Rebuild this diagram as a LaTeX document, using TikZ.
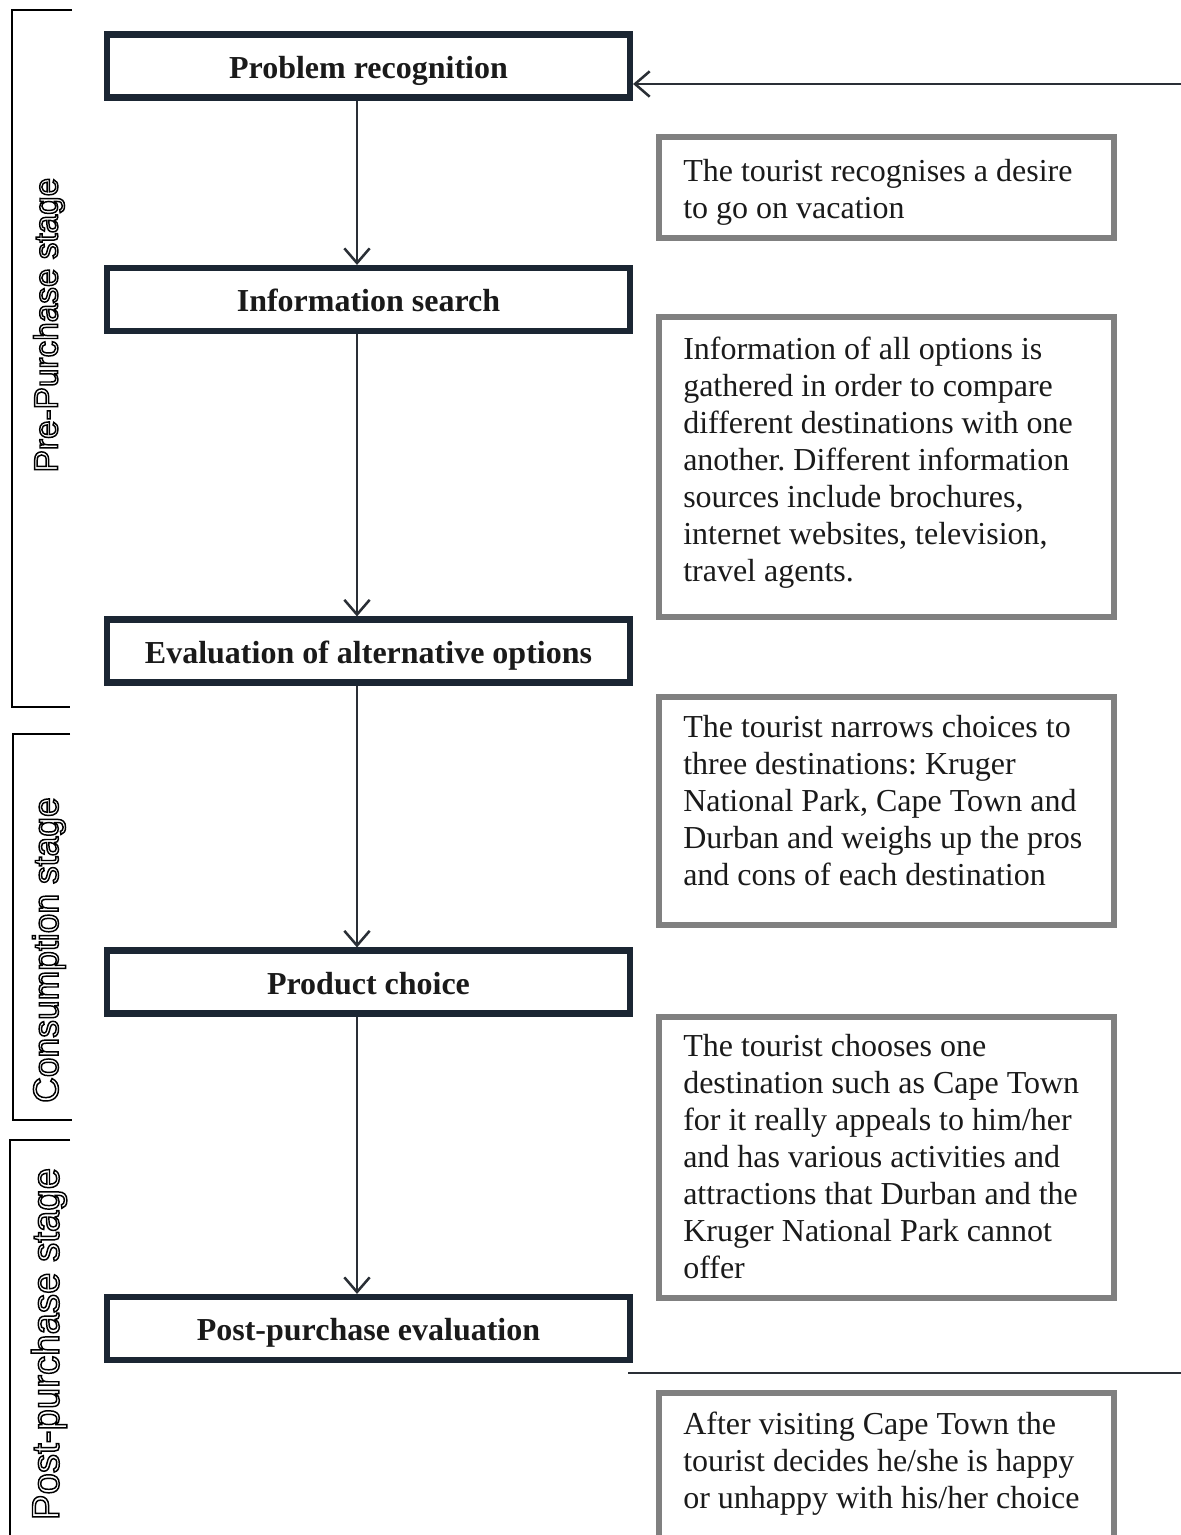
\documentclass[tikz,border=0pt]{standalone}
\usepackage{fontspec}
\setmainfont{Liberation Serif}
\newfontfamily\labelfont{Liberation Sans}
\usetikzlibrary{arrows.meta}
\frenchspacing
\definecolor{boxnavy}{HTML}{1B2633}
\definecolor{notegray}{HTML}{808080}
\definecolor{inkdark}{HTML}{1A1A1A}
\definecolor{linkdark}{HTML}{2A2F36}
\newcommand\pxu{0.75pt}
% hollow (outlined) lettering for the stage labels
\newcommand\hollowtext[1]{\special{pdf:literal direct 1 Tr 1.1 w}#1\special{pdf:literal direct 0 Tr}}
% stacked lines with a fixed baseline distance; the first baseline is the box baseline
\newcommand\notelines[1]{\vtop{\baselineskip=27.75pt\lineskiplimit=-100pt\lineskip=0pt#1}}

\begin{document}
\begin{tikzpicture}[x=0.75pt,y=-0.75pt,
  stepbox/.style={draw=boxnavy, line width=4.6pt, minimum width=523*\pxu,
    minimum height=63*\pxu, inner sep=0pt, text=inkdark,
    text height=20pt, text depth=2pt,
    font=\fontsize{24}{28}\selectfont\bfseries},
  notebox/.style={draw=notegray, line width=4.8pt, anchor=north west,
    minimum width=455*\pxu, inner sep=0pt, outer sep=0pt},
  notetext/.style={anchor=base west, inner sep=0pt, text=inkdark,
    font=\fontsize{24}{27.75}\selectfont},
  flow/.style={draw=linkdark, line width=1.9pt,
    -{Straight Barb[length=11pt,width=19pt,line width=1.9pt]}},
  plainline/.style={draw=linkdark, line width=1.6pt},
  bracket/.style={draw=black, line width=1.5pt},
  stagelabel/.style={rotate=90, inner sep=0pt, text=black}
]
\useasboundingbox (0,0) rectangle (1181,1535);
\clip (0,0) rectangle (1181,1535);

% main process steps
\node[stepbox] (b1) at (368.5,66)    {Problem recognition};
\node[stepbox] (b2) at (368.5,299.5) {Information search};
\node[stepbox] (b3) at (368.5,651)   {Evaluation of alternative options};
\node[stepbox] (b4) at (368.5,982)   {Product choice};
\node[stepbox] (b5) at (368.5,1328.5){Post-purchase evaluation};

% explanatory notes
\node[notebox, minimum height=101*\pxu] (n1) at (659,137)  {};
\node[notebox, minimum height=300*\pxu] (n2) at (659,317)  {};
\node[notebox, minimum height=228*\pxu] (n3) at (659,697)  {};
\node[notebox, minimum height=281*\pxu] (n4) at (659,1017) {};
\node[notebox, minimum height=200*\pxu] (n5) at (659,1393) {};

\node[notetext] (t1) at (683,181) {\notelines{%
  \hbox{The tourist recognises a desire}
  \hbox{to go on vacation}}};
\node[notetext] (t2) at (683,359) {\notelines{%
  \hbox{Information of all options is}
  \hbox{gathered in order to compare}
  \hbox{different destinations with one}
  \hbox{another. Different information}
  \hbox{sources include brochures,}
  \hbox{internet websites, television,}
  \hbox{travel agents.}}};
\node[notetext] (t3) at (683,737) {\notelines{%
  \hbox{The tourist narrows choices to}
  \hbox{three destinations: Kruger}
  \hbox{National Park, Cape Town and}
  \hbox{Durban and weighs up the pros}
  \hbox{and cons of each destination}}};
\node[notetext] (t4) at (683,1056) {\notelines{%
  \hbox{The tourist chooses one}
  \hbox{destination such as Cape Town}
  \hbox{for it really appeals to him/her}
  \hbox{and has various activities and}
  \hbox{attractions that Durban and the}
  \hbox{Kruger National Park cannot}
  \hbox{offer}}};
\node[notetext] (t5) at (683,1434) {\notelines{%
  \hbox{After visiting Cape Town the}
  \hbox{tourist decides he/she is happy}
  \hbox{or unhappy with his/her choice}}};

% flow between the steps
\coordinate (spine) at (357,0);
\draw[flow] (b1.south -| spine) -- (b2.north -| spine);
\draw[flow] (b2.south -| spine) -- (b3.north -| spine);
\draw[flow] (b3.south -| spine) -- (b4.north -| spine);
\draw[flow] (b4.south -| spine) -- (b5.north -| spine);

% feedback loop ends
\coordinate (loopin) at (1181,84);
\draw[flow] (loopin) -- (loopin -| b1.east);
\coordinate (loopout) at (1181,1373);
\coordinate (loopstart) at (628,1373);
\draw[plainline] (loopstart) -- (loopout);

% stage brackets
\draw[bracket] (72,10) -- (12,10) -- (12,707) -- (70,707);
\draw[bracket] (70,734) -- (13,734) -- (13,1120) -- (72,1120);
\draw[bracket] (70,1140) -- (10,1140) -- (10,1545);

% stage labels
\node[stagelabel, font=\labelfont\fontsize{25}{30}\selectfont] (pre) at (49,325)
  {\hollowtext{Pre-Purchase stage}};
\node[stagelabel, font=\labelfont\fontsize{26.6}{30}\selectfont] (cons) at (49,950)
  {\hollowtext{Consumption stage}};
\node[stagelabel, font=\labelfont\fontsize{28.8}{32}\selectfont] (post) at (49,1344)
  {\hollowtext{Post-purchase stage}};
\end{tikzpicture}
\end{document}
